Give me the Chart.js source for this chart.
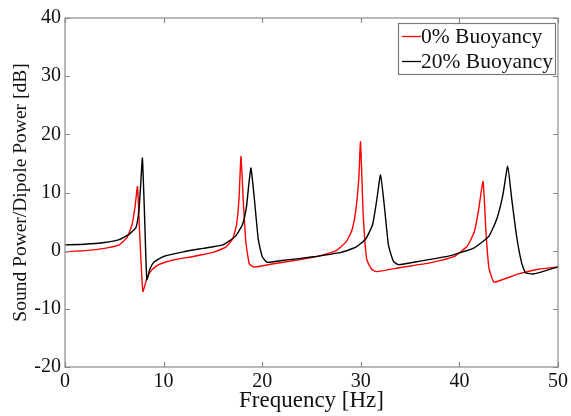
<!DOCTYPE html>
<html>
<head>
<meta charset="utf-8">
<script src="https://cdn.jsdelivr.net/npm/chart.js@4"></script>
<style>
  html, body { margin: 0; padding: 0; background: #fff; }
  canvas { display: block; }
</style>
</head>
<body>
<canvas id="c" width="571" height="416"></canvas>
<script>
// ---- data ----
const seriesLabels = ['0% Buoyancy', '20% Buoyancy'];
const seriesColors = ['rgb(255,0,0)', 'rgb(0,0,0)'];

const freq0 = [0, 2, 4, 5.5, 6.3, 6.8, 7.1, 7.35, 7.6, 7.9, 8.3, 8.8, 9.5, 11, 13, 15, 16.3, 17.0, 17.4, 17.65, 17.85, 18.1, 18.35, 18.7, 19.2, 21, 24, 26, 27.5, 28.5, 29.1, 29.5, 29.8, 29.97, 30.25, 30.6, 31.1, 31.6, 34, 37, 39.5, 40.8, 41.5, 41.9, 42.4, 42.7, 43.0, 43.5, 44.5, 46, 48, 50];
const power0 = [-0.2, 0.0, 0.4, 1.0, 2.3, 4.5, 7.5, 11.0, 2.0, -7.0, -4.8, -3.3, -2.4, -1.6, -1.0, -0.3, 0.6, 2.0, 4.5, 9.0, 16.2, 8.0, 1.4, -2.3, -2.8, -2.3, -1.5, -0.8, 0.0, 1.5, 3.5, 7.0, 12.5, 18.7, 6.0, -1.5, -3.2, -3.6, -2.9, -2.1, -1.0, 0.8, 3.2, 6.5, 11.9, 3.0, -3.0, -5.4, -4.9, -4.0, -3.2, -2.8];

const freq20 = [0, 2, 4, 5.5, 6.5, 7.2, 7.5, 7.7, 7.85, 8.05, 8.3, 8.6, 9.0, 10, 12, 14, 16, 17.3, 18.0, 18.4, 18.65, 18.86, 19.2, 19.6, 20.0, 20.5, 22, 25, 28, 29.5, 30.5, 31.2, 31.6, 32.0, 32.4, 32.8, 33.3, 33.8, 36, 39, 41.5, 43, 43.8, 44.4, 44.9, 45.3, 45.8, 46.3, 46.7, 47.5, 49, 50];
const power20 = [1.0, 1.1, 1.4, 1.9, 2.8, 4.0, 7.0, 12.0, 15.9, 7.0, -5.0, -3.2, -2.0, -1.0, -0.2, 0.4, 1.0, 2.5, 4.5, 7.5, 11.5, 14.2, 9.0, 2.0, -1.0, -2.0, -1.7, -1.1, -0.3, 0.6, 2.0, 4.5, 8.5, 13.0, 7.5, 1.0, -1.8, -2.4, -1.8, -0.9, 0.5, 2.5, 5.5, 9.5, 14.5, 9.0, 2.5, -2.0, -3.8, -4.0, -3.3, -2.8];

const xMin = 0, xMax = 50, xStep = 10;
const yMin = -20, yMax = 40, yStep = 10;
const xTitle = 'Frequency [Hz]';
const yTitle = 'Sound Power/Dipole Power [dB]';

const toPoints = (xs, ys) => xs.map((x, i) => ({ x: x, y: ys[i] }));

const AXIS_GRAY = '#8a8a8a';
const SERIF = '"Liberation Serif", "Times New Roman", serif';

// frame, inward ticks on all sides, and the boxed legend
const framePlugin = {
  id: 'frame',
  afterDatasetsDraw(chart) {
    const ctx = chart.ctx;
    const a = chart.chartArea;
    const xs = chart.scales.x, ys = chart.scales.y;
    ctx.save();
    ctx.strokeStyle = AXIS_GRAY;
    ctx.lineWidth = 1.2;
    ctx.strokeRect(a.left, a.top, a.right - a.left, a.bottom - a.top);
    const tl = 5;
    ctx.beginPath();
    xs.ticks.forEach(t => {
      const px = Math.round(xs.getPixelForValue(t.value)) + 0.5;
      ctx.moveTo(px, a.bottom); ctx.lineTo(px, a.bottom - tl);
      ctx.moveTo(px, a.top); ctx.lineTo(px, a.top + tl);
    });
    ys.ticks.forEach(t => {
      const py = Math.round(ys.getPixelForValue(t.value)) + 0.5;
      ctx.moveTo(a.left, py); ctx.lineTo(a.left + tl, py);
      ctx.moveTo(a.right, py); ctx.lineTo(a.right - tl, py);
    });
    ctx.stroke();

    // legend box
    const bx = 398, by = 23, bw = 157, bh = 51;
    ctx.fillStyle = '#fff';
    ctx.fillRect(bx, by, bw, bh);
    ctx.strokeStyle = '#7a7a7a';
    ctx.lineWidth = 1.2;
    ctx.strokeRect(bx + 0.5, by + 0.5, bw, bh);
    ctx.font = '21.5px ' + SERIF;
    ctx.textBaseline = 'middle';
    ctx.textAlign = 'left';
    const rows = [36, 61];
    chart.data.datasets.forEach((ds, i) => {
      const ry = rows[i];
      ctx.strokeStyle = ds.borderColor;
      ctx.lineWidth = 1.3;
      ctx.beginPath();
      ctx.moveTo(402, ry + 0.5); ctx.lineTo(421, ry + 0.5);
      ctx.stroke();
      ctx.fillStyle = '#111';
      ctx.fillText(ds.label, 421, ry + 1);
    });
    ctx.restore();
  }
};

new Chart(document.getElementById('c'), {
  type: 'line',
  data: {
    datasets: [
      { label: seriesLabels[0], data: toPoints(freq0, power0), borderColor: seriesColors[0],
        borderWidth: 1.4, pointRadius: 0, tension: 0.15, fill: false, order: 1 },
      { label: seriesLabels[1], data: toPoints(freq20, power20), borderColor: seriesColors[1],
        borderWidth: 1.4, pointRadius: 0, tension: 0.15, fill: false, order: 0 }
    ]
  },
  options: {
    responsive: false,
    animation: false,
    devicePixelRatio: 1,
    layout: { padding: { top: 18, right: 10, bottom: 0, left: 0 } },
    plugins: { legend: { display: false }, tooltip: { enabled: false } },
    scales: {
      x: {
        type: 'linear', min: xMin, max: xMax,
        afterFit: s => { s.height = 49; },
        grid: { display: false, drawTicks: false },
        border: { display: false },
        ticks: { stepSize: xStep, padding: 3, color: '#111', maxRotation: 0,
                 font: { family: SERIF, size: 20 } },
        title: { display: true, text: xTitle, color: '#111',
                 font: { family: SERIF, size: 23, lineHeight: 1 }, padding: { top: 0, bottom: 4 } }
      },
      y: {
        type: 'linear', min: yMin, max: yMax,
        afterFit: s => { s.width = 65; },
        grid: { display: false, drawTicks: false },
        border: { display: false },
        ticks: { stepSize: yStep, padding: 4, color: '#111',
                 font: { family: SERIF, size: 20 } },
        title: { display: true, text: yTitle, color: '#111',
                 font: { family: SERIF, size: 19.5, lineHeight: 1.2 }, padding: { top: 9, bottom: 0 } }
      }
    }
  },
  plugins: [framePlugin]
});
</script>
</body>
</html>
